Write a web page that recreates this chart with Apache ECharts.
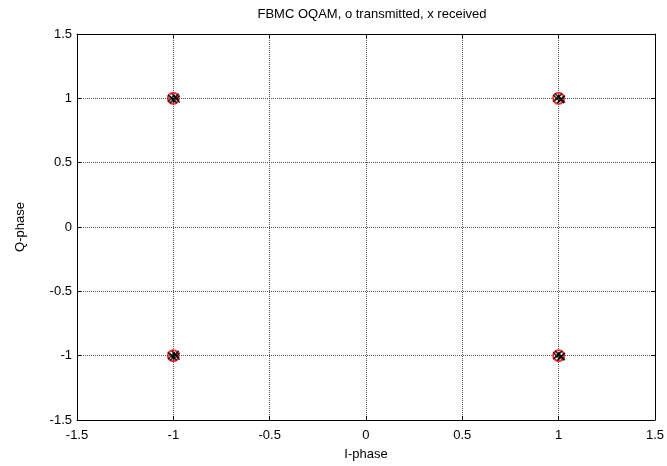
<!DOCTYPE html>
<html>
<head>
<meta charset="utf-8">
<script src="https://cdn.jsdelivr.net/npm/echarts@6/dist/echarts.min.js"></script>
<style>
  html, body { margin: 0; padding: 0; background: #fff; }
  #chart { width: 667px; height: 466px; }
</style>
</head>
<body>
<div id="chart"></div>
<script>
// constellation points (transmitted)
const txI = [-1, 1, -1, 1];
const txQ = [1, 1, -1, -1];
// received samples, clustered tightly around the constellation points
const rxI = [-1.01, -0.99, -1.0, -0.985, 0.99, 1.01, 1.0, 1.015, -1.01, -0.99, -1.0, -0.985, 0.99, 1.01, 1.0, 1.015];
const rxQ = [1.0, 1.01, 0.99, 0.995, 1.0, 0.99, 1.01, 0.995, -1.0, -0.99, -1.01, -1.005, -1.0, -1.01, -0.99, -1.005];
const ticks = [-1.5, -1, -0.5, 0, 0.5, 1, 1.5];

const font = 'Liberation Sans, Arial, sans-serif';
const chart = echarts.init(document.getElementById('chart'), null, { renderer: 'canvas' });

const axisBase = {
  type: 'value', min: -1.5, max: 1.5, interval: 0.5,
  axisLine: { show: true, onZero: false, lineStyle: { color: '#000', width: 1 } },
  axisTick: { show: true, inside: true, length: 4, lineStyle: { color: '#000' } },
  splitLine: { show: false }
};
const lbl = { color: '#000', fontFamily: font, fontSize: 13, formatter: v => String(v) };

chart.setOption({
  backgroundColor: '#fff',
  animation: false,
  title: {
    text: 'FBMC OQAM, o transmitted, x received',
    left: 367, top: 3, textAlign: 'center',
    textStyle: { fontFamily: font, fontSize: 13, fontWeight: 'normal', color: '#000' }
  },
  grid: { left: 77, right: 10, top: 34, bottom: 43 },
  xAxis: [
    Object.assign({}, axisBase, {
      position: 'bottom',
      name: 'I-phase', nameLocation: 'middle', nameGap: 28,
      nameTextStyle: { fontFamily: font, fontSize: 13, color: '#000' },
      axisLabel: Object.assign({ margin: 9 }, lbl),
      splitLine: { show: true, lineStyle: { color: '#555', type: [1, 1], width: 1 } }
    }),
    Object.assign({}, axisBase, { position: 'top', axisLabel: { show: false } })
  ],
  yAxis: [
    Object.assign({}, axisBase, {
      position: 'left',
      name: 'Q-phase', nameLocation: 'middle', nameGap: 50,
      nameTextStyle: { fontFamily: font, fontSize: 13, color: '#000' },
      axisLabel: Object.assign({ margin: 5 }, lbl),
      splitLine: { show: true, lineStyle: { color: '#555', type: [1, 1], width: 1 } }
    }),
    Object.assign({}, axisBase, { position: 'right', axisLabel: { show: false } })
  ],
  series: [
    {
      type: 'scatter', name: 'transmitted',
      data: txI.map((v, i) => [v, txQ[i]]),
      symbol: 'circle', symbolSize: 11,
      itemStyle: { color: 'none', borderColor: '#f00', borderWidth: 2 },
      z: 3
    },
    {
      type: 'scatter', name: 'received',
      data: rxI.map((v, i) => [v, rxQ[i]]),
      symbol: 'path://M0,0L10,10M10,0L0,10', symbolSize: 7,
      itemStyle: { color: 'none', borderColor: '#000', borderWidth: 1.5 },
      z: 4
    }
  ]
});
</script>
</body>
</html>
